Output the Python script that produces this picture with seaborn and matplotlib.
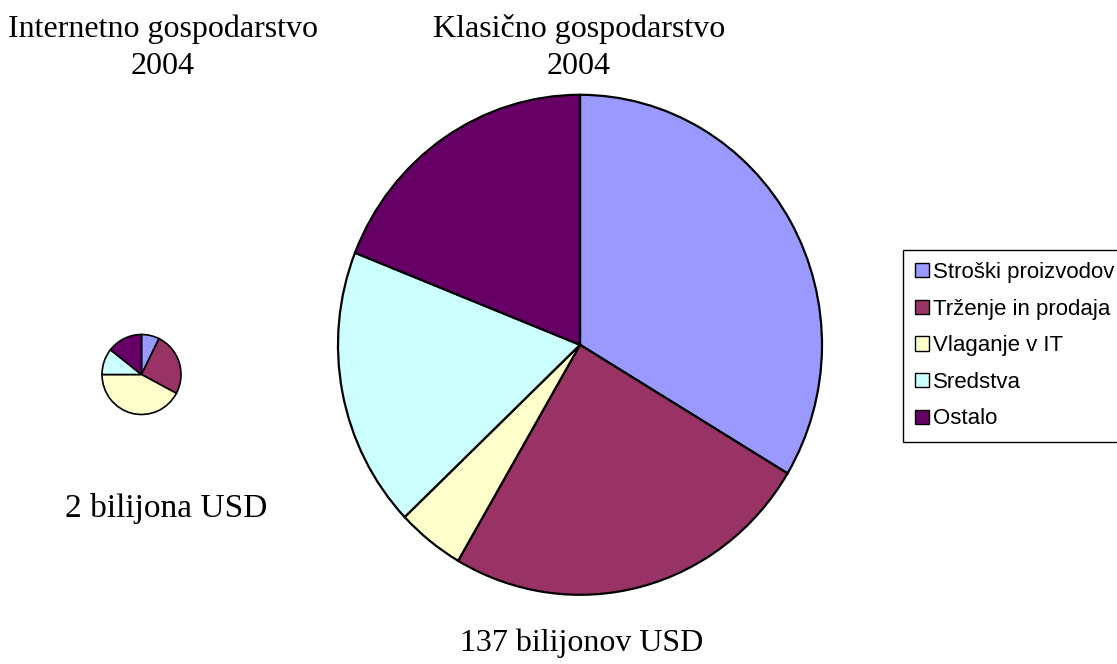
import matplotlib
matplotlib.use("Agg")
import matplotlib.pyplot as plt
from matplotlib.patches import Patch
import seaborn as sns

# Cost structure shares (%), clockwise from 12 o'clock
categories = ["Stroški proizvodov", "Trženje in prodaja", "Vlaganje v IT", "Sredstva", "Ostalo"]
internet_shares = [7.3, 25.5, 42.2, 10.6, 14.4]
classic_shares = [33.6, 24.8, 4.5, 18.1, 19.0]
colors = ["#9999FF", "#993366", "#FFFFCC", "#CCFFFF", "#660066"]

title_lines = [["Internetno gospodarstvo", "2004"], ["Klasično gospodarstvo", "2004"]]
totals = ["2 bilijona USD", "137 bilijonov USD"]

sns.set_theme(style="white")
plt.rcParams["font.family"] = ["Liberation Serif", "DejaVu Serif"]
plt.rcParams["text.color"] = "black"

W, H = 1117, 664
fig = plt.figure(figsize=(W / 100, H / 100), dpi=100)
fig.patch.set_facecolor("white")


def px_axes(cx, cy, rx, ry):
    return fig.add_axes([(cx - rx) / W, (H - cy - ry) / H, 2 * rx / W, 2 * ry / H])


def draw_pie(ax, values, lw):
    ax.pie(values, colors=colors, startangle=90, counterclock=False,
           wedgeprops=dict(edgecolor="black", linewidth=lw))
    ax.set_aspect("auto")
    ax.set_xlim(-1.0, 1.0)
    ax.set_ylim(-1.0, 1.0)
    ax.axis("off")


ax_small = px_axes(141.5, 374.5, 39.5, 40)
draw_pie(ax_small, internet_shares, 1.2)

ax_big = px_axes(580, 344.8, 242, 250)
draw_pie(ax_big, classic_shares, 1.6)


def px_text(x, y, s, size=23, **kw):
    fig.text(x / W, 1 - y / H, s, ha="center", va="baseline", fontsize=size, **kw)


# Titles (two lines each) and totals
for cx, lines in zip([163, 579], title_lines):
    px_text(cx, 36.7, lines[0])
    px_text(cx, 74, lines[1])
px_text(166.5, 516.7, totals[0], size=24)
px_text(582, 651, totals[1], size=23)

handles = [Patch(facecolor=c, edgecolor="black", linewidth=1.0) for c in colors]
leg = fig.legend(handles, categories, loc="upper left",
                 bbox_to_anchor=(903 / W, 1 - 250 / H), borderaxespad=0,
                 frameon=True, fancybox=False, framealpha=1, edgecolor="black",
                 prop={"family": ["Liberation Sans", "DejaVu Sans"], "size": 16},
                 handlelength=0.6, handleheight=0.6, handletextpad=0.2,
                 labelspacing=0.7, borderpad=0.55)
leg.get_frame().set_linewidth(1.0)
for t in leg.get_texts():
    t.set_color("black")

fig.savefig("out.png", dpi=100, facecolor="white")
